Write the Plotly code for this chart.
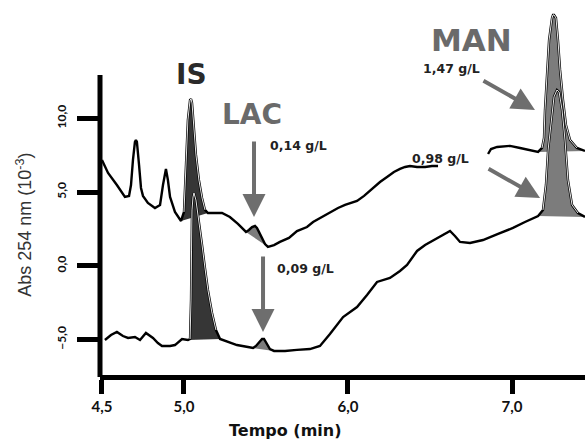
import plotly.graph_objects as go

# ---------------- data: time (min) , absorbance at 254 nm (x1e-3) ----------------
# upper chromatogram
up_pre_t = [4.500, 4.537, 4.591, 4.640, 4.665, 4.677, 4.689, 4.701, 4.707, 4.713, 4.726, 4.738,
            4.750, 4.780, 4.823, 4.854, 4.872, 4.890, 4.902, 4.915, 4.945]
up_pre_a = [7.19, 6.31, 5.49, 4.68, 4.75, 5.49, 7.19, 8.41, 8.54, 8.41, 6.85, 5.29,
            4.75, 4.27, 3.93, 4.14, 5.49, 6.58, 5.83, 4.68, 3.66]
is_up_t = [4.982, 5.000, 5.012, 5.024, 5.037, 5.043, 5.049, 5.061, 5.073, 5.091, 5.110, 5.128, 5.146]
is_up_a = [3.05, 3.66, 7.19, 9.90, 11.25, 11.32, 11.05, 9.22, 7.53, 5.83, 4.61, 3.80, 3.59]
up_mid_t = [5.232, 5.280, 5.329, 5.360]
up_mid_a = [3.59, 3.32, 2.85, 2.51]
lac_up_t = [5.378, 5.396, 5.415, 5.433, 5.445, 5.457, 5.476, 5.494, 5.512]
lac_up_a = [2.31, 2.44, 2.64, 2.71, 2.58, 2.31, 1.83, 1.49, 1.29]
up_post_t = [5.549, 5.585, 5.640, 5.689, 5.750, 5.787, 5.829, 5.890, 5.939, 5.982, 6.030, 6.055,
             6.098, 6.146, 6.195, 6.238, 6.280, 6.317, 6.348, 6.378, 6.421, 6.470, 6.512, 6.549]
up_post_a = [1.42, 1.63, 1.90, 2.37, 2.64, 2.98, 3.25, 3.66, 3.93, 4.14, 4.34, 4.41,
             4.75, 5.22, 5.69, 6.03, 6.37, 6.58, 6.71, 6.78, 6.71, 6.71, 6.78, 6.78]
up_tail_t = [6.854, 6.872, 6.909, 6.988, 7.049, 7.110]
up_tail_a = [7.59, 7.93, 8.07, 8.14, 8.00, 7.86]
man_up_t = [7.159, 7.183, 7.195, 7.201, 7.213, 7.226, 7.244, 7.250, 7.256, 7.268, 7.280, 7.293,
            7.311, 7.329, 7.354, 7.396, 7.445]
man_up_a = [7.73, 8.00, 8.68, 10.58, 13.29, 15.32, 16.81, 17.02, 17.02, 16.81, 15.32, 13.29,
            11.25, 9.56, 8.54, 8.00, 7.80]

# lower chromatogram
lo_pre_t = [4.518, 4.555, 4.591, 4.628, 4.659, 4.701, 4.732, 4.768, 4.811, 4.841, 4.866, 4.915, 4.945, 4.988]
lo_pre_a = [-5.02, -4.68, -4.47, -4.75, -4.88, -4.81, -5.02, -4.54, -4.88, -5.22, -5.42, -5.42, -5.36, -4.95]
is_lo_t = [5.024, 5.037, 5.043, 5.046, 5.049, 5.055, 5.061, 5.073, 5.091, 5.110, 5.128, 5.146, 5.171, 5.195, 5.220]
is_lo_a = [-5.02, -4.95, -2.31, 1.08, 3.80, 4.68, 4.95, 4.47, 2.78, 1.42, -0.14, -1.63, -3.19, -4.34, -4.95]
lo_mid_t = [5.250, 5.323, 5.390]
lo_mid_a = [-5.08, -5.36, -5.49]
lac_lo_t = [5.421, 5.439, 5.457, 5.476, 5.488, 5.506, 5.524, 5.549]
lac_lo_a = [-5.56, -5.42, -5.15, -4.95, -4.95, -5.29, -5.63, -5.76]
lo_post_t = [5.616, 5.689, 5.768, 5.829, 5.890, 5.970, 6.055, 6.116, 6.177, 6.256, 6.317, 6.360,
             6.421, 6.470, 6.561, 6.598, 6.622, 6.652, 6.683, 6.744, 6.823, 6.915, 7.006, 7.079]
lo_post_a = [-5.76, -5.69, -5.63, -5.42, -4.61, -3.46, -2.78, -1.97, -1.08, -0.81, -0.34, 0.07,
             1.02, 1.42, 1.97, 2.24, 2.37, 2.03, 1.63, 1.56, 1.76, 2.17, 2.58, 2.98]
man_lo_t = [7.159, 7.189, 7.207, 7.220, 7.238, 7.256, 7.274, 7.287, 7.305, 7.323, 7.341, 7.366, 7.402, 7.445]
man_lo_a = [3.39, 3.80, 5.49, 7.86, 9.90, 11.46, 11.93, 11.80, 10.58, 8.54, 5.83, 4.14, 3.59, 3.32]

x_ticks = [4.5, 5.0, 6.0, 7.0]
y_ticks = [-5, 0, 5, 10]
labels = {"IS": "IS", "LAC": "LAC", "MAN": "MAN"}
conc = {"lac_up": "0,14 g/L", "lac_lo": "0,09 g/L", "man_up": "1,47 g/L", "man_lo": "0,98 g/L"}

DARK = "#363636"
GREY = "#7c7c7c"
ARROW = "#6e6e6e"
FONT = "Lato"
WIDE = "DejaVu Sans"

fig = go.Figure()


def peak_fill(t, a, color):
    fig.add_trace(go.Scatter(x=t, y=a, mode="lines", fill="toself", fillcolor=color,
                             line=dict(width=0), hoverinfo="skip", showlegend=False))


def peak_inner(t, a):
    fig.add_trace(go.Scatter(x=t, y=a, mode="lines", line=dict(color="white", width=0.9),
                             hoverinfo="skip", showlegend=False))


upper_t = up_pre_t + is_up_t + up_mid_t + lac_up_t + up_post_t + [None] + up_tail_t + man_up_t
upper_a = up_pre_a + is_up_a + up_mid_a + lac_up_a + up_post_a + [None] + up_tail_a + man_up_a
lower_t = lo_pre_t + is_lo_t + lo_mid_t + lac_lo_t + lo_post_t + man_lo_t
lower_a = lo_pre_a + is_lo_a + lo_mid_a + lac_lo_a + lo_post_a + man_lo_a

# upper fills + line
peak_fill(is_up_t, is_up_a, DARK)
peak_fill(lac_up_t, lac_up_a, GREY)
peak_fill(man_up_t, man_up_a, GREY)
fig.add_trace(go.Scatter(x=upper_t, y=upper_a, mode="lines", connectgaps=False,
                         line=dict(color="black", width=2.4), hoverinfo="skip", showlegend=False))
peak_inner(is_up_t[1:-1], is_up_a[1:-1])
peak_inner(man_up_t[1:-1], man_up_a[1:-1])

# lower fills + line
peak_fill(is_lo_t, is_lo_a, DARK)
peak_fill(lac_lo_t, lac_lo_a, GREY)
peak_fill(man_lo_t, man_lo_a, GREY)
fig.add_trace(go.Scatter(x=lower_t, y=lower_a, mode="lines",
                         line=dict(color="black", width=2.4), hoverinfo="skip", showlegend=False))
peak_inner(is_lo_t[1:-1], is_lo_a[1:-1])
peak_inner(man_lo_t[1:-1], man_lo_a[1:-1])

small = dict(family=WIDE, size=12.5, color="#222", weight="bold")
annotations = [
    dict(x=5.043, y=12.95, text=labels["IS"], font=dict(family=WIDE, size=28, color="#2a2a2a", weight="bold")),
    dict(x=5.415, y=10.24, text=labels["LAC"], font=dict(family=WIDE, size=28, color="#6a6a6a", weight="bold")),
    dict(x=6.756, y=15.32, text=labels["MAN"], font=dict(family=WIDE, size=31, color="#6a6a6a", weight="bold")),
    dict(x=5.701, y=8.20, text=conc["lac_up"], font=small),
    dict(x=5.738, y=-0.14, text=conc["lac_lo"], font=small),
    dict(x=6.634, y=13.42, text=conc["man_up"], font=small),
    dict(x=6.567, y=7.32, text=conc["man_lo"], font=small),
]
for a in annotations:
    a.update(xref="x", yref="y", showarrow=False, xanchor="center", yanchor="middle")

arrows = [
    dict(x=5.427, y=3.32, ax=0, ay=-77),
    dict(x=5.482, y=-4.47, ax=0, ay=-77),
    dict(x=7.140, y=10.58, ax=-53, ay=-30),
    dict(x=7.171, y=4.61, ax=-53, ay=-30),
]
for a in arrows:
    a.update(xref="x", yref="y", text="", showarrow=True, arrowhead=2, arrowsize=1.15,
             arrowwidth=4, arrowcolor=ARROW, standoff=0, startstandoff=0)

# axis titles as annotations
annotations.append(dict(xref="paper", yref="y", x=-0.155, y=2.78, text="Abs 254 nm (10<sup>-3</sup>)",
                        textangle=-90, showarrow=False, xanchor="center", yanchor="middle",
                        font=dict(family="Liberation Sans", size=18, color="#333")))
annotations.append(dict(xref="x", yref="paper", x=5.62, y=-0.147, text="Tempo (min)",
                        showarrow=False, xanchor="center", yanchor="middle",
                        font=dict(family=WIDE, size=16, color="#111", weight="bold")))

fig.update_layout(
    width=585, height=440, autosize=False,
    margin=dict(l=100, r=0, t=0, b=65),
    paper_bgcolor="white", plot_bgcolor="white",
    separators=",.",
    annotations=annotations + arrows,
    shapes=[dict(type="line", xref="paper", yref="paper", x0=0, x1=0, y0=-0.005, y1=0.8,
                 line=dict(color="black", width=5))],
    xaxis=dict(range=[4.488, 7.445], showgrid=False, zeroline=False, showline=True,
               linecolor="black", linewidth=5, ticks="outside", ticklen=14, tickwidth=5,
               tickcolor="black", tickvals=x_ticks, tickformat=".1f",
               tickfont=dict(family=FONT, size=15, color="#111", weight="bold")),
    yaxis=dict(range=[-7.39, 18.03], showgrid=False, zeroline=False, showline=False,
               ticks="outside", ticklen=22, tickwidth=5, tickcolor="black",
               tickvals=y_ticks, tickformat=".1f", tickangle=-90, ticklabelstandoff=6,
               tickfont=dict(family=FONT, size=12, color="#111", weight="bold")),
)

fig.write_html("out.html", config={"displayModeBar": False},
               post_script="document.body.style.margin='0px';")
